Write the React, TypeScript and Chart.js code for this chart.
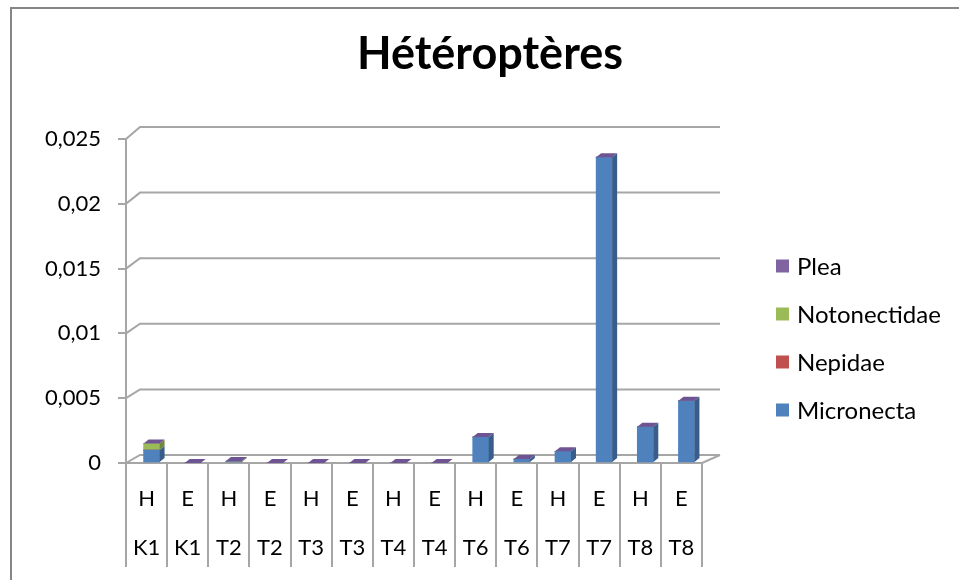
import React, { useEffect, useRef } from "react";
import { Chart, registerables } from "chart.js";

Chart.register(...registerables);

const TITLE = "Hétéroptères";
const SEASON = ["H", "E", "H", "E", "H", "E", "H", "E", "H", "E", "H", "E", "H", "E"];
const SITE = ["K1", "K1", "T2", "T2", "T3", "T3", "T4", "T4", "T6", "T6", "T7", "T7", "T8", "T8"];

const MICRONECTA = [0.001, 0, 0.0001, 0, 0, 0, 0, 0, 0.002, 0.0003, 0.0009, 0.0236, 0.0028, 0.0048];
const NEPIDAE = [0, 0, 0, 0, 0, 0, 0, 0, 0, 0, 0, 0, 0, 0];
const NOTONECTIDAE = [0.0005, 0, 0.00005, 0, 0, 0, 0, 0, 0, 0, 0, 0, 0, 0];
const PLEA = [0, 0, 0, 0, 0, 0, 0, 0, 0, 0, 0, 0, 0, 0];

const Y_MAX = 0.025;
const Y_STEP = 0.005;

const SERIES = [
  { label: "Micronecta", data: MICRONECTA, color: "#4F81BD", side: "#385D8A", top: "#6F95C8" },
  { label: "Nepidae", data: NEPIDAE, color: "#C0504D", side: "#8C3836", top: "#CF7472" },
  { label: "Notonectidae", data: NOTONECTIDAE, color: "#9BBB59", side: "#71893F", top: "#B3CC7E" },
  { label: "Plea", data: PLEA, color: "#8064A2", side: "#5C4776", top: "#6E5492" },
];

const FONT = "Lato, 'Open Sans', sans-serif";
const GRID = "#A6A6A6";
const DX = 5;
const DY = 4;
const BAR_SHIFT = 5;

const depthPlugin = {
  id: "depth3d",
  beforeDraw(chart: any) {
    const ctx = chart.ctx;
    ctx.save();
    ctx.fillStyle = "#ffffff";
    ctx.fillRect(0, 0, chart.width, chart.height);
    ctx.strokeStyle = "#868686";
    ctx.lineWidth = 2;
    ctx.beginPath();
    ctx.moveTo(11, chart.height + 2);
    ctx.lineTo(11, 8);
    ctx.lineTo(chart.width + 2, 8);
    ctx.stroke();
    ctx.restore();
  },
  afterUpdate(chart: any) {
    chart.data.datasets.forEach((_: any, di: number) => {
      const meta = chart.getDatasetMeta(di);
      meta.data.forEach((el: any) => {
        el.x += BAR_SHIFT;
      });
    });
  },
  beforeDatasetsDraw(chart: any) {
    const ctx = chart.ctx;
    const area = chart.chartArea;
    const y = chart.scales.y;
    const backLeft = area.left + 14;
    const backRight = area.right + 18;
    const backBottom = area.bottom - 8;
    const backTop = area.top - 12;
    ctx.save();
    ctx.strokeStyle = GRID;
    ctx.lineWidth = 2;
    for (let v = 0; v <= Y_MAX + 1e-9; v += Y_STEP) {
      const yf = y.getPixelForValue(v);
      const frac = (area.bottom - yf) / (area.bottom - area.top);
      const yb = backBottom - frac * (backBottom - backTop);
      ctx.beginPath();
      ctx.moveTo(area.left, yf);
      ctx.lineTo(backLeft, yb);
      ctx.lineTo(backRight, yb);
      ctx.stroke();
    }
    ctx.beginPath();
    ctx.moveTo(area.right, area.bottom);
    ctx.lineTo(backRight, backBottom);
    ctx.stroke();
    ctx.restore();
  },
  afterDatasetsDraw(chart: any) {
    const ctx = chart.ctx;
    const n = chart.data.labels.length;
    ctx.save();
    for (let i = 0; i < n; i++) {
      let topY = Infinity;
      let left = 0;
      let right = 0;
      chart.data.datasets.forEach((ds: any, di: number) => {
        const el: any = chart.getDatasetMeta(di).data[i];
        if (!el) return;
        const w = el.width;
        left = el.x - w / 2;
        right = el.x + w / 2;
        const top = Math.min(el.y, el.base);
        const bot = Math.max(el.y, el.base);
        topY = Math.min(topY, top);
        if (bot - top > 0.01) {
          ctx.fillStyle = SERIES[di].side;
          ctx.beginPath();
          ctx.moveTo(right, top);
          ctx.lineTo(right + DX, top - DY);
          ctx.lineTo(right + DX, bot - DY);
          ctx.lineTo(right, bot);
          ctx.closePath();
          ctx.fill();
        }
      });
      const last = SERIES[SERIES.length - 1];
      ctx.fillStyle = last.top;
      ctx.beginPath();
      ctx.moveTo(left, topY);
      ctx.lineTo(right, topY);
      ctx.lineTo(right + DX, topY - DY);
      ctx.lineTo(left + DX, topY - DY);
      ctx.closePath();
      ctx.fill();
    }
    ctx.restore();
  },
  afterDraw(chart: any) {
    const ctx = chart.ctx;
    ctx.save();
    ctx.fillStyle = "#000000";
    ctx.font = `bold 45px ${FONT}`;
    ctx.textAlign = "center";
    ctx.textBaseline = "alphabetic";
    ctx.fillText(TITLE, 490, 69);

    ctx.font = `24px ${FONT}`;
    ctx.textAlign = "left";
    ctx.textBaseline = "middle";
    const items = [...SERIES].reverse();
    items.forEach((s, k) => {
      const cy = 266 + k * 48;
      ctx.fillStyle = s.color;
      ctx.fillRect(776, cy - 6.5, 13, 13);
      ctx.fillStyle = "#000000";
      ctx.fillText(s.label, 797, cy + 1);
    });
    ctx.restore();
  },
};

export default function App() {
  const ref = useRef<HTMLCanvasElement>(null);

  useEffect(() => {
    if (!ref.current) return;
    const labels = SEASON.map((s, i) => [s, SITE[i]]);
    const chart = new Chart(ref.current, {
      type: "bar",
      data: {
        labels,
        datasets: SERIES.map((s) => ({
          label: s.label,
          data: s.data,
          backgroundColor: s.color,
          borderWidth: 0,
          barThickness: 16,
        })),
      },
      options: {
        responsive: false,
        maintainAspectRatio: false,
        animation: false,
        devicePixelRatio: 1,
        events: [],
        layout: { padding: { left: 0, top: 139, right: 257, bottom: 0 } },
        plugins: {
          legend: { display: false },
          title: { display: false },
          tooltip: { enabled: false },
        },
        scales: {
          x: {
            stacked: true,
            offset: true,
            afterFit: (scale: any) => {
              scale.height = 117;
            },
            grid: {
              offset: true,
              drawOnChartArea: false,
              drawTicks: true,
              tickLength: 104,
              color: GRID,
              lineWidth: 2,
            },
            border: { display: true, color: GRID, width: 2 },
            ticks: {
              autoSkip: false,
              maxRotation: 0,
              minRotation: 0,
              padding: -92,
              color: "#000000",
              font: { family: FONT, size: 22, lineHeight: 2.2 },
            },
          },
          y: {
            stacked: true,
            min: 0,
            max: Y_MAX,
            afterFit: (scale: any) => {
              scale.width = 126;
            },
            grid: {
              drawOnChartArea: false,
              drawTicks: true,
              tickLength: 8,
              color: GRID,
              lineWidth: 2,
            },
            border: { display: true, color: GRID, width: 2 },
            ticks: {
              stepSize: Y_STEP,
              padding: 17,
              color: "#000000",
              font: { family: FONT, size: 22 },
              callback: (v: any) => String(+Number(v).toFixed(3)).replace(".", ","),
            },
          },
        },
      },
      plugins: [depthPlugin],
    });
    return () => chart.destroy();
  }, []);

  return (
    <div style={{ position: "absolute", left: 0, top: 0, width: 959, height: 580 }}>
      <canvas ref={ref} width={959} height={580} style={{ display: "block", width: 959, height: 580 }} />
    </div>
  );
}
